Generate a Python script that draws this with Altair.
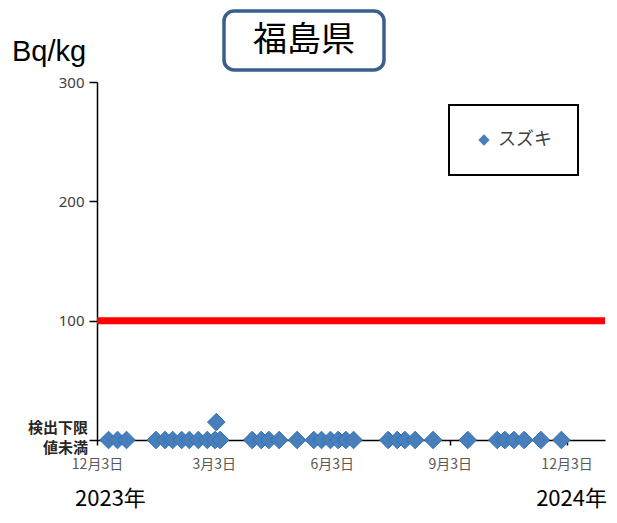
import altair as alt
import pandas as pd

title_text = "福島県"
series_name = "スズキ"
unit_text = "Bq/kg"
zero_label = ["検出下限", "値未満"]
year_labels = ["2023年", "2024年"]

dates = [
    "2023-12-12", "2023-12-19", "2023-12-26",
    "2024-01-18", "2024-01-25", "2024-01-31", "2024-02-07", "2024-02-13",
    "2024-02-20", "2024-02-27", "2024-03-04", "2024-03-08", "2024-03-05",
    "2024-04-02", "2024-04-09", "2024-04-15", "2024-04-23", "2024-05-07",
    "2024-05-20", "2024-05-26", "2024-06-02", "2024-06-08", "2024-06-14", "2024-06-20",
    "2024-07-17", "2024-07-24", "2024-07-30", "2024-08-07", "2024-08-21",
    "2024-09-17",
    "2024-10-10", "2024-10-16", "2024-10-23", "2024-10-31", "2024-11-13", "2024-11-29",
]
values = [
    0, 0, 0,
    0, 0, 0, 0, 0,
    0, 0, 0, 0, 15,
    0, 0, 0, 0, 0,
    0, 0, 0, 0, 0, 0,
    0, 0, 0, 0, 0,
    0,
    0, 0, 0, 0, 0, 0,
]
limit_values = [100]
y_ticks = [0, 100, 200, 300]
x_tick_dates = [(2023, 12, 3), (2024, 3, 3), (2024, 6, 3), (2024, 9, 3), (2024, 12, 3)]
x_domain = [(2023, 12, 3), (2025, 1, 2)]

JP = "Noto Sans CJK JP"

df = pd.DataFrame({
    "date": [d + "T00:00:00" for d in dates],
    "value": values,
    "series": [series_name] * len(dates),
})

x_scale = alt.Scale(domain=[alt.DateTime(year=y, month=m, date=d) for y, m, d in x_domain])
y_scale = alt.Scale(domain=[0, 300])

x_enc = alt.X(
    "date:T",
    scale=x_scale,
    title=None,
    axis=alt.Axis(
        values=[alt.DateTime(year=y, month=m, date=d) for y, m, d in x_tick_dates],
        format="%-m月%-d日",
        grid=False,
        domainColor="black",
        domainWidth=1.5,
        tickColor="black",
        tickSize=5,
        tickWidth=1.5,
        labelFont=JP,
        labelFontSize=14,
        labelColor="#595959",
        labelPadding=12,
        labelFlush=False,
        labelOverlap=False,
    ),
)

y_enc = alt.Y(
    "value:Q",
    scale=y_scale,
    title=None,
    axis=alt.Axis(
        values=y_ticks,
        labelExpr="datum.value == 0 ? '' : datum.label",
        grid=False,
        domainColor="black",
        domainWidth=1.5,
        tickColor="black",
        tickSize=8,
        tickWidth=1.5,
        labelFont="Noto Sans",
        labelFontSize=15,
        labelColor="#404040",
        labelPadding=5,
    ),
)

limit_df = pd.DataFrame({"limit": limit_values})
limit = alt.Chart(limit_df).mark_rule(color="#FF0000", strokeWidth=7).encode(
    y=alt.Y("limit:Q", scale=y_scale)
)

points = alt.Chart(df).mark_point(
    shape="diamond", filled=True, size=310, opacity=1,
    stroke="#2E75B6", strokeWidth=1,
).encode(
    x=x_enc,
    y=y_enc,
    color=alt.Color(
        "series:N",
        scale=alt.Scale(domain=[series_name], range=["#4A7EBB"]),
        legend=alt.Legend(
            title=None,
            orient="none",
            legendX=352,
            legendY=23,
            symbolType="diamond",
            symbolSize=130,
            symbolStrokeWidth=0,
            labelFont=JP,
            labelFontSize=18,
            labelColor="#404040",
            labelOffset=5,
            padding=26,
            strokeColor="black",
            fillColor="white",
        ),
    ),
)

zero_df = pd.DataFrame({"v": [0]})
zero_text = alt.Chart(zero_df).mark_text(
    text=zero_label, align="right", baseline="middle", dy=-12, lineHeight=20,
    font=JP, fontSize=15, fontWeight="bold", color="#262626",
).encode(x=alt.value(-9), y=alt.Y("v:Q", scale=y_scale))

box_df = pd.DataFrame({"t": [title_text]})
title_box = alt.Chart(box_df).mark_rect(
    cornerRadius=10, fill="white", stroke="#3A5F8C", strokeWidth=3.5
).encode(x=alt.value(127), x2=alt.value(287), y=alt.value(-71), y2=alt.value(-12))
title_mark = alt.Chart(box_df).mark_text(
    font=JP, fontSize=34, color="black", align="center", baseline="middle"
).encode(text="t:N", x=alt.value(207), y=alt.value(-41))

unit_df = pd.DataFrame({"t": [unit_text]})
unit_mark = alt.Chart(unit_df).mark_text(
    font="Liberation Sans", fontSize=29, color="black", align="center", baseline="middle"
).encode(text="t:N", x=alt.value(-48), y=alt.value(-30))

year_df = pd.DataFrame({"t": year_labels, "px": [-22, 510]})
year_left = alt.Chart(year_df.iloc[[0]]).mark_text(
    font=JP, fontSize=22, color="black", align="left", baseline="middle"
).encode(text="t:N", x=alt.X("px:Q", scale=None), y=alt.value(417))
year_right = alt.Chart(year_df.iloc[[1]]).mark_text(
    font=JP, fontSize=22, color="black", align="right", baseline="middle"
).encode(text="t:N", x=alt.X("px:Q", scale=None), y=alt.value(417))

chart = alt.layer(
    limit, points, zero_text, title_box, title_mark, unit_mark, year_left, year_right
).properties(
    width=508,
    height=358,
    autosize=alt.AutoSizeParams(type="none"),
    padding={"left": 89, "top": 74, "right": 4, "bottom": 75},
    background="white",
).configure_view(stroke=None).configure_legend(strokeWidth=2)

chart.save("out.html", embed_options={"renderer": "svg", "actions": False})
